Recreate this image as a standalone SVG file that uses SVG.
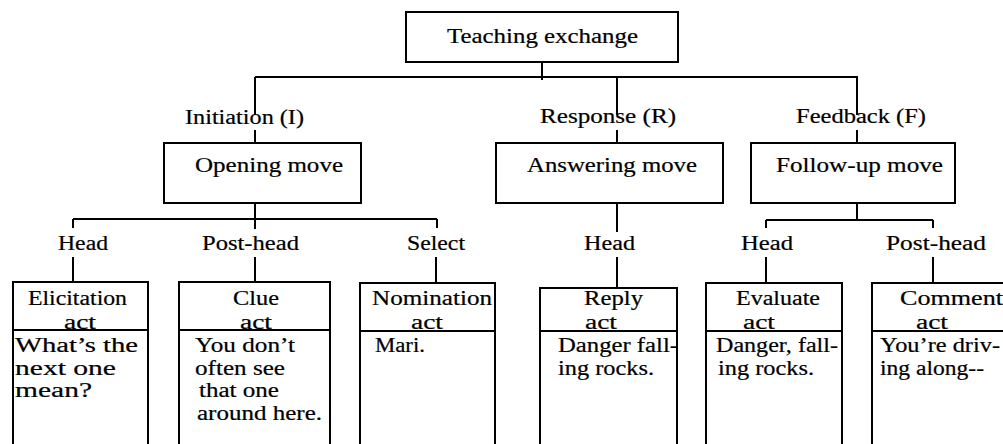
<svg xmlns="http://www.w3.org/2000/svg" width="1003" height="444" viewBox="0 0 1003 444">
<style>
.bx{fill:none;stroke:#000;stroke-width:2}
.ln{fill:none;stroke:#000;stroke-width:2}
text{font-family:"Liberation Serif","Times New Roman",serif;font-size:20px;fill:#000;stroke:#000;stroke-width:0.2}
</style>
<rect width="1003" height="444" fill="#fff"/>
<g id="connectors" class="ln">
<path d="M542 62V80M255 77H858M255 77V115M255 130V143M617 77V115M617 130V143M857 77V115M857 130V143"/>
<path d="M255 203V229M73 219H437M73 219V228M437 219V228"/>
<path d="M617 203V232"/>
<path d="M857 203V220M766 220H933M766 220V228M933 220V228"/>
<path d="M73 257V282M255 257V282M436 257V283M617 257V288M766 257V283M933 257V283"/>
</g>
<g id="teaching-exchange"><rect class="bx" x="406" y="12" width="272" height="50"/><text x="447" y="43" textLength="191" lengthAdjust="spacingAndGlyphs">Teaching exchange</text></g>
<g id="initiation"><text x="185" y="124" textLength="119" lengthAdjust="spacingAndGlyphs">Initiation (I)</text></g>
<g id="response"><text x="540" y="123" textLength="136" lengthAdjust="spacingAndGlyphs">Response (R)</text></g>
<g id="feedback"><text x="796" y="123" textLength="130" lengthAdjust="spacingAndGlyphs">Feedback (F)</text></g>
<g id="opening-move"><rect class="bx" x="164" y="143" width="197" height="60"/><text x="195" y="172" textLength="148" lengthAdjust="spacingAndGlyphs">Opening move</text></g>
<g id="answering-move"><rect class="bx" x="496" y="143" width="227" height="60"/><text x="527" y="172" textLength="170" lengthAdjust="spacingAndGlyphs">Answering move</text></g>
<g id="follow-up-move"><rect class="bx" x="751" y="143" width="204" height="60"/><text x="776" y="172" textLength="167" lengthAdjust="spacingAndGlyphs">Follow-up move</text></g>
<g id="label-head-1"><text x="58" y="250" textLength="50" lengthAdjust="spacingAndGlyphs">Head</text></g>
<g id="label-posthead-1"><text x="202" y="250" textLength="97" lengthAdjust="spacingAndGlyphs">Post-head</text></g>
<g id="label-select"><text x="407" y="250" textLength="58" lengthAdjust="spacingAndGlyphs">Select</text></g>
<g id="label-head-2"><text x="584" y="250" textLength="51" lengthAdjust="spacingAndGlyphs">Head</text></g>
<g id="label-head-3"><text x="741" y="250" textLength="52" lengthAdjust="spacingAndGlyphs">Head</text></g>
<g id="label-posthead-2"><text x="886" y="250" textLength="100" lengthAdjust="spacingAndGlyphs">Post-head</text></g>
<g id="elicitation-act"><rect class="bx" x="13" y="282" width="135" height="166"/><path class="ln" d="M13 330H148"/>
<text x="28" y="305" textLength="99" lengthAdjust="spacingAndGlyphs">Elicitation</text><text x="64" y="329" textLength="32" lengthAdjust="spacingAndGlyphs">act</text>
<text x="15" y="352" textLength="123" lengthAdjust="spacingAndGlyphs">What’s the</text><text x="15" y="375" textLength="101" lengthAdjust="spacingAndGlyphs">next one</text><text x="15" y="397" textLength="77" lengthAdjust="spacingAndGlyphs">mean?</text></g>
<g id="clue-act"><rect class="bx" x="179" y="282" width="151" height="166"/><path class="ln" d="M179 330H330"/>
<text x="233" y="305" textLength="46" lengthAdjust="spacingAndGlyphs">Clue</text><text x="240" y="329" textLength="32" lengthAdjust="spacingAndGlyphs">act</text>
<text x="195" y="352" textLength="100" lengthAdjust="spacingAndGlyphs">You don’t</text><text x="195" y="375" textLength="90" lengthAdjust="spacingAndGlyphs">often see</text><text x="199" y="397" textLength="80" lengthAdjust="spacingAndGlyphs">that one</text><text x="197" y="420" textLength="125" lengthAdjust="spacingAndGlyphs">around here.</text></g>
<g id="nomination-act"><rect class="bx" x="360" y="283" width="135" height="165"/><path class="ln" d="M360 331H495"/>
<text x="372" y="305" textLength="120" lengthAdjust="spacingAndGlyphs">Nomination</text><text x="411" y="329" textLength="32" lengthAdjust="spacingAndGlyphs">act</text>
<text x="375" y="352" textLength="50" lengthAdjust="spacingAndGlyphs">Mari.</text></g>
<g id="reply-act"><rect class="bx" x="540" y="288" width="137" height="160"/><path class="ln" d="M540 331H677"/>
<text x="584" y="305" textLength="59" lengthAdjust="spacingAndGlyphs">Reply</text><text x="585" y="329" textLength="32" lengthAdjust="spacingAndGlyphs">act</text>
<text x="558" y="352" textLength="120" lengthAdjust="spacingAndGlyphs">Danger fall-</text><text x="558" y="375" textLength="96" lengthAdjust="spacingAndGlyphs">ing rocks.</text></g>
<g id="evaluate-act"><rect class="bx" x="706" y="283" width="136" height="165"/><path class="ln" d="M706 331H842"/>
<text x="736" y="305" textLength="84" lengthAdjust="spacingAndGlyphs">Evaluate</text><text x="743" y="329" textLength="32" lengthAdjust="spacingAndGlyphs">act</text>
<text x="716" y="352" textLength="122" lengthAdjust="spacingAndGlyphs">Danger, fall-</text><text x="718" y="375" textLength="96" lengthAdjust="spacingAndGlyphs">ing rocks.</text></g>
<g id="comment-act"><rect class="bx" x="872" y="283" width="140" height="165"/><path class="ln" d="M872 331H1012"/>
<text x="900" y="305" textLength="103" lengthAdjust="spacingAndGlyphs">Comment</text><text x="916" y="329" textLength="32" lengthAdjust="spacingAndGlyphs">act</text>
<text x="880" y="352" textLength="120" lengthAdjust="spacingAndGlyphs">You’re driv-</text><text x="880" y="375" textLength="104" lengthAdjust="spacingAndGlyphs">ing along--</text></g>
</svg>
